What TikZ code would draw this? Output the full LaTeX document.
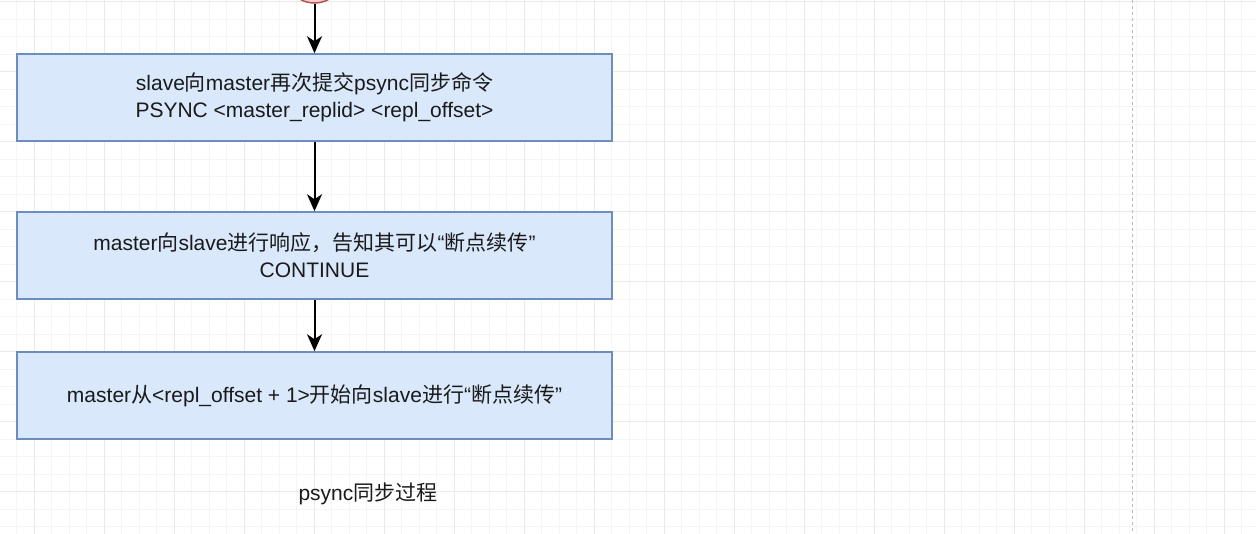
\documentclass[tikz,border=0pt]{standalone}
\usepackage{fontspec}
\setmainfont{Liberation Sans}
\newfontfamily\cjk{Noto Sans CJK SC}
\newcommand{\zh}[1]{{\cjk #1}}
\usepackage{xcolor}
\usetikzlibrary{arrows.meta, positioning}
\definecolor{boxfill}{HTML}{DAE8FC}
\definecolor{boxline}{HTML}{6C8EBF}
\definecolor{startfill}{HTML}{F8CECC}
\definecolor{startline}{HTML}{B85450}
\definecolor{gridminor}{HTML}{F5F5F5}
\definecolor{gridmajor}{HTML}{EAEAEA}
\definecolor{txt}{HTML}{1A1A1A}

\begin{document}
\begin{tikzpicture}[x=1pt, y=-1pt, >={Stealth[length=17pt, width=15pt, inset=5pt]},
    box/.style={draw=boxline, fill=boxfill, line width=1.5pt, minimum width=595pt, minimum height=87pt,
                align=center, text=txt, font=\fontsize{21}{27}\selectfont},
    flow/.style={->, line width=2pt}]
    \useasboundingbox (0,0) rectangle (1256,534);

    % Lưới nền
    \foreach \gx in {-0.7,16.8,...,1260} \draw[gridminor, line width=0.8pt] (\gx,0) -- (\gx,534);
    \foreach \gy in {1.5,19,...,540} \draw[gridminor, line width=0.8pt] (0,\gy) -- (1256,\gy);
    \foreach \gx in {34.3,104.3,...,1260} \draw[gridmajor, line width=0.8pt] (\gx,0) -- (\gx,534);
    \foreach \gy in {1.5,71.5,...,540} \draw[gridmajor, line width=0.8pt] (0,\gy) -- (1256,\gy);
    \draw[gray!55, line width=1pt, dash pattern=on 3pt off 3pt] (1132.5,0) -- (1132.5,534);

    % Điểm bắt đầu
    \node[circle, draw=startline, fill=startfill, line width=1.5pt, minimum size=60pt, inner sep=0pt] (start) at (314.5,-27) {};

    % Các bước
    \node[box] (psync) at (314.5,97.5)
        {slave\zh{向}master\zh{再次提交}psync\zh{同步命令}\\PSYNC <master\_replid> <repl\_offset>};
    \node[box] (reply) at (314.5,255.5)
        {master\zh{向}slave\zh{进行响应，告知其可以}“\zh{断点续传}”\\CONTINUE};
    \node[box] (resume) at (314.5,395.5)
        {master\zh{从}<repl\_offset + 1>\zh{开始向}slave\zh{进行}“\zh{断点续传}”};

    % Mũi tên
    \draw[flow] (start) -- (psync);
    \draw[flow] (psync) -- (reply);
    \draw[flow] (reply) -- (resume);

    % Tiêu đề
    \node[text=txt, font=\fontsize{21}{25}\selectfont] (title) at (368,494) {psync\zh{同步过程}};
\end{tikzpicture}
\end{document}
